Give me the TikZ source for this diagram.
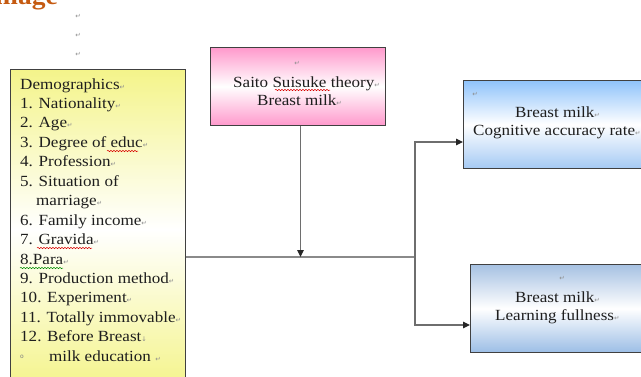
\documentclass[tikz,border=0pt]{standalone}
\usepackage{fontspec}
\setmainfont{Liberation Serif}[FakeStretch=1.1]
\newfontfamily\markfont{DejaVu Sans}
\usetikzlibrary{arrows.meta,decorations.pathmorphing}
\definecolor{boxline}{HTML}{404040}
\definecolor{connc}{HTML}{8A8A8A}
\definecolor{connd}{HTML}{6E6E6E}
\definecolor{yel}{HTML}{F4F48A}
\definecolor{pinkc}{HTML}{FF99CC}
\definecolor{blueA}{HTML}{8FC3FB}
\definecolor{blueB}{HTML}{A5CAF4}
\definecolor{steelA}{HTML}{A6C1E2}
\definecolor{steelB}{HTML}{9CBEE6}
\definecolor{titlec}{HTML}{C55A11}
\definecolor{txtc}{HTML}{1E1E1E}
\newcommand\retmk{{\markfont\fontsize{6.5}{7}\selectfont\color{black!45}↵}}
\newcommand\downmk{{\markfont\fontsize{6.5}{7}\selectfont\color{black!45}↓}}
\begin{document}
\begin{tikzpicture}[x=1pt,y=-1pt,
  box/.style={draw=boxline, line width=0.9pt, inner sep=0pt, anchor=north west},
  txt/.style={inner sep=0pt, anchor=base west, text=txtc, font=\fontsize{15.5}{19}\selectfont},
  mk/.style={inner sep=0pt, anchor=base west},
  conn/.style={draw=connc, line width=1.6pt},
  conn2/.style={draw=connd, line width=1.1pt},
  arr/.style={-{Triangle[length=7pt,width=6.5pt,color=black!85]}},
  spell/.style={draw=red!85!black, line width=0.5pt, decorate, decoration={snake, amplitude=0.7pt, segment length=3pt}},
  spellg/.style={draw=green!55!black, line width=0.5pt, decorate, decoration={snake, amplitude=0.7pt, segment length=3pt}}
]
\useasboundingbox (0,0) rectangle (641,376);
\clip (0,0) rectangle (641,376);

% title fragment
\node[inner sep=0pt, anchor=base west, text=titlec, font=\fontsize{25}{25}\selectfont\bfseries] (title) at (-5,4) {mage};
\node[inner sep=0pt] (r1) at (78,16) {\retmk};
\node[inner sep=0pt] (r2) at (78,35) {\retmk};
\node[inner sep=0pt] (r3) at (78,54) {\retmk};

% boxes
\node[box, minimum width=175pt, minimum height=320pt, top color=yel, bottom color=yel, middle color=white] (demo) at (10,69) {};
\node[box, minimum width=175pt, minimum height=78pt, top color=pinkc, bottom color=pinkc, middle color=white] (pink) at (210,47) {};
\node[box, minimum width=190pt, minimum height=88pt, top color=blueA, bottom color=blueB, middle color=white] (blue1) at (463,80) {};
\node[box, minimum width=190pt, minimum height=88pt, top color=steelA, bottom color=steelB, middle color=white] (blue2) at (470,264) {};

% demographics text
\foreach \i/\x/\t in {0/20/Demographics, 1/20/1. Nationality, 2/20/2. Age, 3/20/3. Degree of educ, 4/20/4. Profession, 7/20/6. Family income, 8/20/7. Gravida, 9/20/8.Para, 10/20/9. Production method, 11/20/10. Experiment, 12/20/11. Totally immovable}
  \node[txt] (d\i) at (\x, 89+19.45*\i) {\t\retmk};
\node[txt] (d5) at (20, 89+19.45*5) {5. Situation of};
\node[txt] (d6) at (36, 89+19.45*6) {marriage\retmk};
\node[txt] (d13) at (20, 89+19.45*13) {12. Before Breast\downmk};
\node[mk, font=\fontsize{6}{6}\selectfont, text=black!50] (d14a) at (20, 358) {\markfont o};
\node[txt] (d14) at (49, 89+19.45*14) {milk education \retmk};

% pink text
\node[inner sep=0pt] (p0) at (297,63) {\retmk};
\node[txt] (p1) at (233,87) {Saito Suisuke theory\retmk};
\node[txt] (p2) at (257,105) {Breast milk\retmk};

% blue 1 text
\node[inner sep=0pt] (b10) at (475,94) {\retmk};
\node[txt] (b11) at (515,117) {Breast milk\retmk};
\node[txt] (b12) at (473,135) {Cognitive accuracy rate\retmk};

% blue 2 text
\node[inner sep=0pt] (b20) at (562,278) {\retmk};
\node[txt] (b21) at (515,302) {Breast milk\retmk};
\node[txt] (b22) at (495,320) {Learning fullness\retmk};

% spell-check underlines
\draw[spell] (107,151) -- (138,151);
\draw[spell] (37,248) -- (92,248);
\draw[spellg] (20,268) -- (63,268);
\draw[spell] (275,90) -- (330,90);

% connectors
\coordinate (hj) at (300.5,257);
\coordinate (split) at (415,257);
\coordinate (up) at (415,142);
\coordinate (dn) at (415,325);
\draw[conn] (demo.east |- split) -- (split);
\draw[conn2, arr] (pink.south -| hj) -- (hj);
\draw[conn2, arr] (split) -- (up) -- (blue1.west |- up);
\draw[conn2, arr] (split) -- (dn) -- (blue2.west |- dn);
\end{tikzpicture}
\end{document}
